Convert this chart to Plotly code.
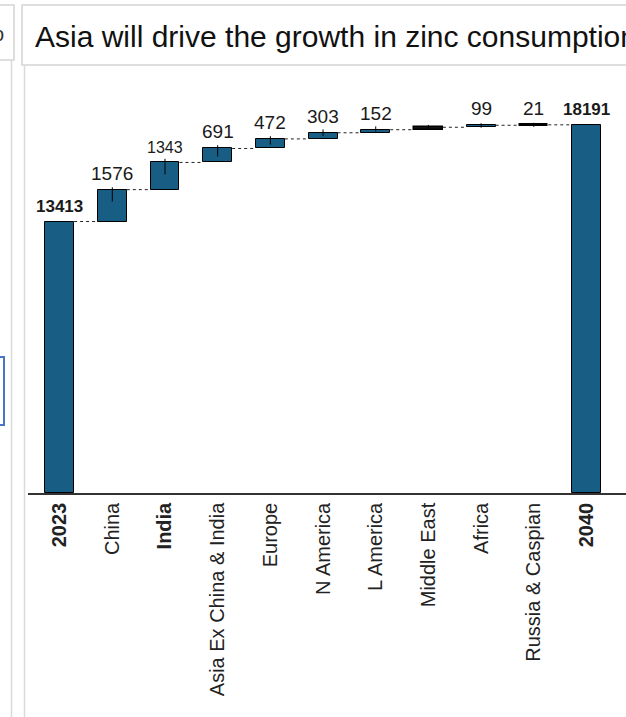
import plotly.graph_objects as go

# ---- data ----
categories = ["2023", "China", "India", "Asia Ex China & India", "Europe",
              "N America", "L America", "Middle East", "Africa",
              "Russia & Caspian", "2040"]
bold_categories = ["2023", "India", "2040"]
start_value = 13413
increments = [1576, 1343, 691, 472, 303, 152, 121, 99, 21]
value_labels = ["13413", "1576", "1343", "691", "472", "303", "152", "", "99", "21", "18191"]
tick_up = [0, 115, 180, 160, 135, 165, 165, 115, 100, 100, 0]
tick_down = [0, 590, 590, 395, 280, 170, 85, 35, 120, 100, 0]

# ---- derived ----
n = len(categories)
bases, sizes, tops = [], [], []
running = start_value
bases.append(0); sizes.append(start_value); tops.append(start_value)
for d in increments:
    bases.append(running); sizes.append(d)
    running += d
    tops.append(running)
bases.append(0); sizes.append(running); tops.append(running)

xpos = list(range(n))
BAR_W = 0.55
BAR_COLOR = "#185e84"
dark_cats = ["Middle East", "Russia & Caspian"]
bar_colors = ["#111111" if c in dark_cats else BAR_COLOR for c in categories]
bar_line_w = [3.0 if c == "Russia & Caspian" else (1.5 if c == "Middle East" else 1) for c in categories]

fig = go.Figure()

fig.add_trace(go.Bar(
    x=xpos, y=sizes, base=bases, width=BAR_W,
    marker=dict(color=bar_colors, line=dict(color="#000000", width=bar_line_w)),
    hoverinfo="skip",
))

# dotted connectors between bars
cx, cy = [], []
for i in range(n - 1):
    cx += [xpos[i] + BAR_W / 2, xpos[i + 1] - BAR_W / 2, None]
    cy += [tops[i], tops[i], None]
fig.add_trace(go.Scatter(x=cx, y=cy, mode="lines",
                         line=dict(color="#222222", width=1, dash="dot"),
                         hoverinfo="skip"))

# small vertical ticks at the top of each increment
fig.add_trace(go.Scatter(
    x=xpos, y=tops, mode="markers", marker=dict(size=0.1, color="rgba(0,0,0,0)"),
    error_y=dict(type="data", symmetric=False, array=tick_up, arrayminus=tick_down,
                 color="#000000", thickness=1, width=0),
    hoverinfo="skip"))

# value labels
for i in range(n):
    if not value_labels[i]:
        continue
    is_bold = categories[i] in ("2023", "2040")
    txt = f"<b>{value_labels[i]}</b>" if is_bold else value_labels[i]
    size = 17 if is_bold else (16 if value_labels[i] == "1343" else 19)
    fig.add_annotation(x=xpos[i], y=tops[i], xref="x", yref="y", text=txt,
                       showarrow=False, yanchor="bottom", yshift=4,
                       font=dict(family="Liberation Sans Narrow, Arial Narrow, Liberation Sans",
                                 size=size, color="#1a1a1a"))

ticktext = [f"<b>{c}</b>" if c in bold_categories else c for c in categories]

# ---- page decorations (surrounding UI frame) ----
W, H = 626, 717
ML, MR, MT, MB = 28, 0, 70, 224
pw, ph = W - ML - MR, H - MT - MB
def px(xp): return (xp - ML) / pw
def py(yp): return (H - MB - yp) / ph

shapes = [
    dict(type="rect", xref="paper", yref="paper", x0=px(22), x1=px(660), y0=py(65), y1=py(5),
         line=dict(color="#d4d4d4", width=1.5), fillcolor="rgba(0,0,0,0)"),
    dict(type="rect", xref="paper", yref="paper", x0=px(-5), x1=px(14), y0=py(60), y1=py(5),
         line=dict(color="#d4d4d4", width=1.5), fillcolor="rgba(0,0,0,0)"),
    dict(type="line", xref="paper", yref="paper", x0=px(11.5), x1=px(11.5), y0=py(60), y1=py(720),
         line=dict(color="#dadada", width=1.5)),
    dict(type="line", xref="paper", yref="paper", x0=px(24.5), x1=px(24.5), y0=py(65), y1=py(720),
         line=dict(color="#dadada", width=1.5)),
    dict(type="rect", xref="paper", yref="paper", x0=px(-5), x1=px(4), y0=py(425), y1=py(357),
         line=dict(color="#4a74c9", width=2), fillcolor="rgba(0,0,0,0)"),
]

fig.add_annotation(xref="paper", yref="paper", x=px(33), y=py(36), xanchor="left", yanchor="middle",
                   text="Asia will drive the growth in zinc consumption", showarrow=False,
                   font=dict(family="Liberation Sans Narrow, Arial Narrow, Liberation Sans",
                             size=30, color="#111111"))
fig.add_annotation(xref="paper", yref="paper", x=px(-2), y=py(34), xanchor="center", yanchor="middle",
                   text="o", showarrow=False,
                   font=dict(family="Liberation Sans", size=20, color="#333333"))

fig.update_layout(
    width=W, height=H,
    margin=dict(l=ML, r=MR, t=MT, b=MB, pad=0),
    paper_bgcolor="white", plot_bgcolor="white",
    showlegend=False, bargap=0,
    shapes=shapes,
    xaxis=dict(range=[-0.6, 10.75], tickmode="array", tickvals=xpos, ticktext=ticktext,
               tickangle=-90, showline=True, linecolor="#333333", linewidth=1.5,
               ticks="", showgrid=False, zeroline=False, fixedrange=True,
               tickfont=dict(family="Liberation Sans, Arial", size=20, color="#222222")),
    yaxis=dict(range=[0, 20900], visible=False, showgrid=False, zeroline=False, fixedrange=True),
)

fig.write_html("out.html", config={"displayModeBar": False},
               post_script="document.body.style.margin='0';document.body.style.overflow='hidden';")
